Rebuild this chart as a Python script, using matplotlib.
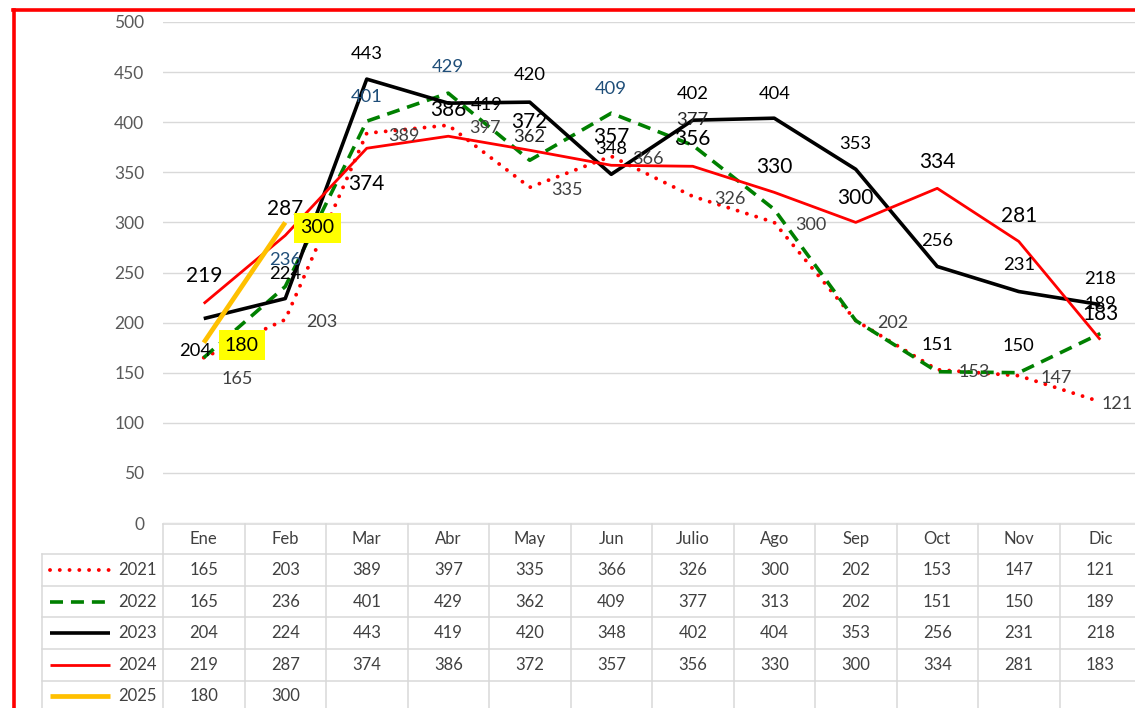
import matplotlib
matplotlib.use('Agg')
import matplotlib.pyplot as plt
from matplotlib.transforms import blended_transform_factory
from matplotlib.lines import Line2D

plt.rcParams['font.family'] = ['Lato', 'DejaVu Sans']

# ---------------- data ----------------
months = ['Ene', 'Feb', 'Mar', 'Abr', 'May', 'Jun', 'Julio', 'Ago', 'Sep', 'Oct', 'Nov', 'Dic']
years = ['2021', '2022', '2023', '2024', '2025']
v2021 = [165, 203, 389, 397, 335, 366, 326, 300, 202, 153, 147, 121]
v2022 = [165, 236, 401, 429, 362, 409, 377, 313, 202, 151, 150, 189]
v2023 = [204, 224, 443, 419, 420, 348, 402, 404, 353, 256, 231, 218]
v2024 = [219, 287, 374, 386, 372, 357, 356, 330, 300, 334, 281, 183]
v2025 = [180, 300]
yticks = [0, 50, 100, 150, 200, 250, 300, 350, 400, 450, 500]

series = [v2021, v2022, v2023, v2024, v2025]

# ---------------- styles ----------------
styles = [
    dict(color='#FF0000', lw=2.8, linestyle=(0, (0.01, 2.5)), dash_capstyle='round'),
    dict(color='#008000', lw=2.6, linestyle=(0, (3.6, 2.2)), dash_capstyle='butt'),
    dict(color='#000000', lw=2.6, linestyle='-', solid_capstyle='butt'),
    dict(color='#FF0000', lw=2.0, linestyle='-', solid_capstyle='butt'),
    dict(color='#FFC000', lw=3.4, linestyle='-', solid_capstyle='butt'),
]

GREY = '#404040'
BLUE = '#1F4E79'
DARK = '#262626'

# label offsets in pixels (dx right, dy up), None = no label
off2021 = [(33, -20)] + [(37, -1)] * 10 + [(17, -1)]
off2022 = [None, (0, 28), (0, 26), (0, 28), (0, 25), (0, 26), (0, 27), None, None, (0, 28), (0, 28), (0, 31)]
off2023 = [(-9, -31), (0, 26), (0, 27), (38, 0), (0, 29), (0, 27), (0, 28), (0, 26), (0, 27), (0, 27), (0, 28), (0, 27)]
off2024 = [(0, 29), (0, 28), (0, -34), (0, 28), (0, 30), (0, 30), (0, 29), (0, 27), (0, 26), (0, 28), (0, 27), (0, 27)]
off2025 = [(38, -1), (32, -4)]
offsets = [off2021, off2022, off2023, off2024, off2025]

col2021 = [GREY] * 12
col2022 = [None, BLUE, BLUE, BLUE, DARK, BLUE, DARK, None, None, '#000000', '#000000', '#000000']
col2023 = ['#000000'] * 12
col2024 = ['#000000'] * 12
col2025 = ['#000000'] * 2
colors = [col2021, col2022, col2023, col2024, col2025]
fsizes = [13, 13.2, 13.2, 15, 14]

W, H = 1135, 708
fig = plt.figure(figsize=(W / 100, H / 100), dpi=100)


def fx(px):
    return px / W


def fy(py):
    return 1 - py / H


ax = fig.add_axes([fx(163), fy(523), (1141 - 163) / W, 501 / H])
ax.set_xlim(-0.5, 11.5)
ax.set_ylim(0, 500)
ax.set_yticks(yticks)
ax.set_xticks([])
for s in ax.spines.values():
    s.set_visible(False)
ax.yaxis.grid(True, color='#d9d9d9', lw=1.0)
ax.set_axisbelow(True)
ax.tick_params(axis='y', length=0, pad=13.5, labelsize=12.5, labelcolor='#595959')

# ---------------- lines ----------------
for k, vals in enumerate(series):
    xs = list(range(len(vals)))
    ax.plot(xs, vals, zorder=3 + k, **styles[k])

# ---------------- data labels ----------------
for k, vals in enumerate(series):
    fs = fsizes[k]
    for i, v in enumerate(vals):
        off = offsets[k][i]
        if off is None:
            continue
        dx, dy = off
        kw = {}
        if k == 4:
            kw['bbox'] = dict(boxstyle='square,pad=0.32', fc='#FFFF00', ec='none')
        ax.annotate(str(v), (i, v), xytext=(dx * 0.72, dy * 0.72 - 0.36 * fs),
                    textcoords='offset points', ha='center', va='baseline',
                    fontsize=fs, color=colors[k][i], zorder=20, annotation_clip=False, **kw)

# ---------------- data table ----------------
tr = blended_transform_factory(ax.transData, fig.transFigure)
LC = '#d9d9d9'
LW = 1.1
# vertical column lines
for k in range(13):
    fig.add_artist(Line2D([k - 0.5, k - 0.5], [fy(524), fy(715)], transform=tr, color=LC, lw=LW))
# header top
fig.add_artist(Line2D([-0.5, 11.5], [fy(524), fy(524)], transform=tr, color=LC, lw=LW))
# row lines
row_lines = [554, 586, 617, 649, 681]
for yl in row_lines:
    fig.add_artist(Line2D([fx(42), fx(1141)], [fy(yl), fy(yl)], transform=fig.transFigure, color=LC, lw=LW))
fig.add_artist(Line2D([fx(42), fx(42)], [fy(554), fy(715)], transform=fig.transFigure, color=LC, lw=LW))

# header texts
for i, m in enumerate(months):
    fig.text(i, fy(539), m, transform=tr, ha='center', va='center', fontsize=12, color=GREY)

row_centers = [570, 602, 633, 665, 696]
for k, vals in enumerate(series):
    yc = fy(row_centers[k])
    for i, v in enumerate(vals):
        fig.text(i, yc, str(v), transform=tr, ha='center', va='center', fontsize=12, color=GREY)
    fig.text(fx(157), yc, years[k], ha='right', va='center', fontsize=12, color=GREY)
    fig.add_artist(Line2D([fx(50), fx(110)], [yc, yc], transform=fig.transFigure, **styles[k]))

# ---------------- red frame ----------------
fig.add_artist(Line2D([fx(14), fx(14)], [fy(9.5), fy(720)], transform=fig.transFigure, color='#FF0000', lw=2.6))
fig.add_artist(Line2D([fx(12.6), fx(1140)], [fy(9.5), fy(9.5)], transform=fig.transFigure, color='#FF0000', lw=2.6))

fig.savefig('out.png', dpi=100)
